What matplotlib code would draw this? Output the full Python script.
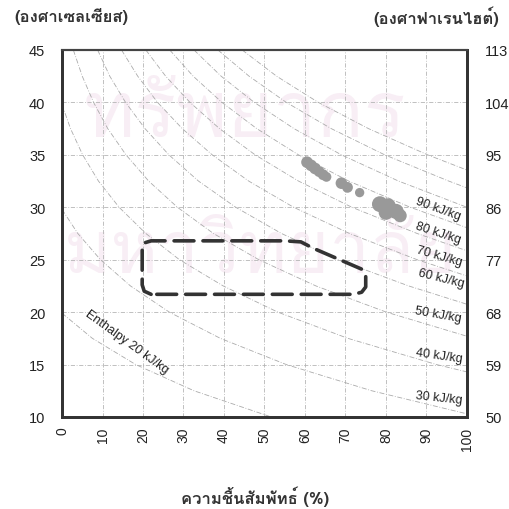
import matplotlib
matplotlib.use("Agg")
import matplotlib.pyplot as plt
from matplotlib import font_manager
from matplotlib.ft2font import FT2Font

# pick an installed font that has Thai glyphs
thai_font = "DejaVu Sans"
for f in font_manager.fontManager.ttflist:
    try:
        if ord("ก") in FT2Font(f.fname).get_charmap():
            thai_font = f.name
            break
    except Exception:
        pass

# relative humidity (%) / dry bulb temperature (C) along each enthalpy line
h20_rh = [0, 7.5, 18.2, 32.6, 51.7]
h20_t = [19.9, 17.5, 15, 12.5, 10]
h30_rh = [0, 3.9, 9.5, 16.9, 26.5, 39.1, 55.4, 76.5, 100]
h30_t = [29.8, 27.5, 25, 22.5, 20, 17.5, 15, 12.5, 10.3]
h40_rh = [0, 2.1, 5.1, 9.0, 14.1, 20.7, 29.0, 39.8, 53.3, 70.6, 92.5, 100]
h40_t = [39.8, 37.5, 35, 32.5, 30, 27.5, 25, 22.5, 20, 17.5, 15, 14.3]
h50_rh = [2.8, 5.0, 7.8, 11.3, 15.8, 21.4, 28.5, 37.4, 48.6, 62.7, 80.1, 100]
h50_t = [45, 42.5, 40, 37.5, 35, 32.5, 30, 27.5, 25, 22.5, 20, 17.7]
h60_rh = [8.8, 11.8, 15.7, 20.5, 26.4, 33.7, 42.9, 54.2, 68.1, 85.6, 100]
h60_t = [45, 42.5, 40, 37.5, 35, 32.5, 30, 27.5, 25, 22.5, 20.75]
h70_rh = [14.7, 18.7, 23.6, 29.7, 37.1, 46.1, 57.2, 71.0, 87.7, 100]
h70_t = [45, 42.5, 40, 37.5, 35, 32.5, 30, 27.5, 25, 23.45]
h80_rh = [20.7, 25.6, 31.6, 38.9, 47.7, 58.4, 71.6, 87.7, 100]
h80_t = [45, 42.5, 40, 37.5, 35, 32.5, 30, 27.5, 25.85]
h90_rh = [26.6, 32.4, 39.5, 48.1, 58.4, 70.8, 86.0, 100]
h90_t = [45, 42.5, 40, 37.5, 35, 32.5, 30, 28.05]
h100_rh = [32.6, 39.3, 47.5, 57.3, 69.0, 83.1, 100]
h100_t = [45, 42.5, 40, 37.5, 35, 32.5, 30]
h110_rh = [38.5, 46.2, 55.4, 66.5, 79.7, 95.5, 100]
h110_t = [45, 42.5, 40, 37.5, 35, 32.5, 31.85]
h120_rh = [44.5, 53.0, 63.3, 75.7, 90.3, 100]
h120_t = [45, 42.5, 40, 37.5, 35, 33.55]

curves = [(h20_rh, h20_t), (h30_rh, h30_t), (h40_rh, h40_t), (h50_rh, h50_t),
          (h60_rh, h60_t), (h70_rh, h70_t), (h80_rh, h80_t), (h90_rh, h90_t),
          (h100_rh, h100_t), (h110_rh, h110_t), (h120_rh, h120_t)]

label_text = ["90 kJ/kg", "80 kJ/kg", "70 kJ/kg", "60 kJ/kg", "50 kJ/kg", "40 kJ/kg", "30 kJ/kg"]
label_rh = [92.8, 92.8, 93.1, 93.6, 92.8, 93.1, 93.1]
label_t = [29.9, 27.6, 25.4, 23.3, 19.8, 15.9, 11.9]
label_rot = [-20, -18, -16, -14, -10, -8, -6]

# comfort zone outline
zone_rh = [22, 20.3, 19.8, 19.8, 20.3, 22, 55, 59, 62, 74, 75, 75, 74, 72, 22]
zone_t = [21.7, 22.0, 22.6, 26.1, 26.6, 26.8, 26.8, 26.7, 26.1, 24.1, 23.5, 22.4, 21.9, 21.7, 21.7]

# measured points (grey blotches)
meas_rh = [60.5, 61.5, 62.5, 63.5, 64.5, 65.3, 69.0, 70.5, 73.5, 78.5, 80.5, 82.5, 80.0, 83.5]
meas_t = [34.3, 34.0, 33.7, 33.4, 33.1, 32.9, 32.3, 31.9, 31.4, 30.3, 30.1, 29.6, 29.5, 29.2]
meas_size = [70, 70, 70, 60, 60, 50, 70, 60, 45, 130, 130, 120, 110, 90]

c_ticks = [10, 15, 20, 25, 30, 35, 40, 45]
f_ticks = ["50", "59", "68", "77", "86", "95", "104", "113"]
rh_ticks = [0, 10, 20, 30, 40, 50, 60, 70, 80, 90, 100]

fig = plt.figure(figsize=(5.1, 5.1), dpi=100)

# pale library watermark from the scan
fig.text(0.48, 0.77, "ทรัพยากร", family=thai_font, fontsize=56, color="#f8eef5",
         ha="center", va="center", zorder=-5)
fig.text(0.51, 0.50, "มหาวิทยาลัย", family=thai_font, fontsize=52, color="#f8eef5",
         ha="center", va="center", zorder=-5)

ax = fig.add_axes([0.1216, 0.1804, 0.794, 0.7196])
ax.set_facecolor("none")
ax.set_xlim(0, 100)
ax.set_ylim(10, 45)

for rh, t in curves:
    ax.plot(rh, t, color="#ababab", lw=0.6, ls=(0, (6, 2, 1, 2)), zorder=2)

for txt, x, y, r in zip(label_text, label_rh, label_t, label_rot):
    ax.text(x, y, txt, fontsize=9, family="Liberation Sans", rotation=r,
            ha="center", va="center", color="#222222", zorder=4)
ax.text(16.1, 17.2, "Enthalpy 20 kJ/kg", fontsize=9, family="Liberation Sans",
        rotation=-36, ha="center", va="center", color="#222222", zorder=4)

ax.scatter(meas_rh, meas_t, s=meas_size, color="#999999", edgecolors="none", zorder=3)

ax.plot(zone_rh, zone_t, color="#333333", lw=2.6, ls=(0, (5.5, 2.5)),
        solid_capstyle="round", dash_capstyle="round", zorder=5)

ax.set_xticks(rh_ticks)
ax.set_xticklabels([str(v) for v in rh_ticks], rotation=90, fontsize=10,
                   family="Liberation Sans", color="#222222")
ax.set_yticks(c_ticks)
ax.set_yticklabels([str(v) for v in c_ticks], fontsize=10.5,
                   family="Liberation Sans", color="#222222")
ax.tick_params(axis="both", length=0)
ax.tick_params(axis="x", pad=7)
ax.tick_params(axis="y", pad=12)
ax.grid(True, color="#b5b5b5", lw=0.6, ls=(0, (5, 2, 1, 2)), zorder=1)

ax2 = ax.twinx()
ax2.set_ylim(10, 45)
ax2.set_yticks(c_ticks)
ax2.set_yticklabels(f_ticks, fontsize=10.5, family="Liberation Sans", color="#222222")
ax2.tick_params(axis="y", length=0, pad=13)

for a in (ax, ax2):
    for side in ["left", "bottom", "right"]:
        a.spines[side].set_linewidth(2)
        a.spines[side].set_color("#333333")
    a.spines["top"].set_linewidth(1.5)
    a.spines["top"].set_color("#444444")

fig.text(0.14, 0.967, "(องศาเซลเซียส)", family=thai_font, fontsize=12, weight="bold",
         ha="center", va="center", color="#333333")
fig.text(0.855, 0.967, "(องศาฟาเรนไฮต์)", family=thai_font, fontsize=12, weight="bold",
         ha="center", va="center", color="#333333")
fig.text(0.5, 0.026, "ความชื้นสัมพัทธ์ (%)", family=thai_font, fontsize=12, weight="bold",
         ha="center", va="center", color="#333333")

fig.savefig("out.png", dpi=100)
